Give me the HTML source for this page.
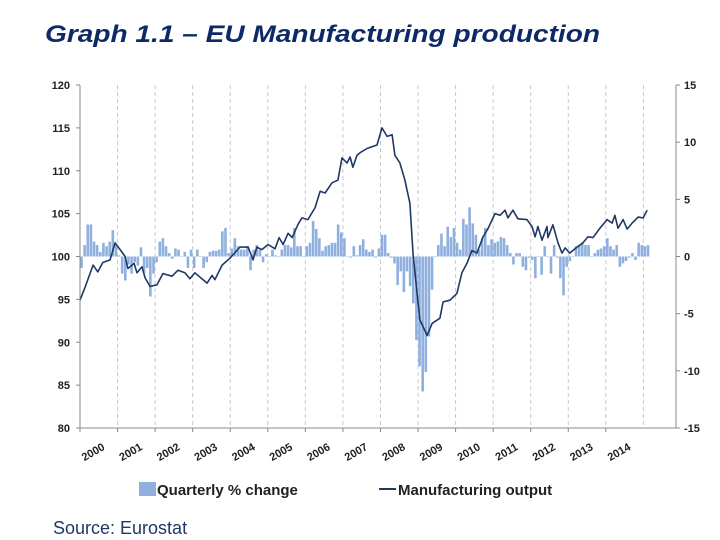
<!DOCTYPE html>
<html><head><meta charset="utf-8"><style>
html,body{margin:0;padding:0;background:#fff;}
svg{display:block;font-family:"Liberation Sans",sans-serif;}
</style></head><body>
<svg id="chart" width="720" height="540" viewBox="0 0 720 540">
<text x="45" y="42" font-size="24" font-weight="bold" font-style="italic" fill="#0e2a66" textLength="555" lengthAdjust="spacingAndGlyphs">Graph 1.1 – EU Manufacturing production</text>
<g id="grid"></g>
<g id="bars"></g>
<path id="line" fill="none" stroke="#1f3864" stroke-width="1.6" stroke-linejoin="round"/>
<g id="axes"></g>
<g>
<rect x="139" y="482" width="17" height="14" fill="#8fb0de"/>
<text x="157" y="495" font-size="15" font-weight="bold" fill="#222">Quarterly % change</text>
<line x1="379" y1="489" x2="396" y2="489" stroke="#1f3864" stroke-width="2"/>
<text x="398" y="495" font-size="15" font-weight="bold" fill="#222">Manufacturing output</text>
</g>
<text x="53" y="534" font-size="18" fill="#1f3864">Source: Eurostat</text>
</svg>
<script>
const years = ["2000","2001","2002","2003","2004","2005","2006","2007","2008","2009","2010","2011","2012","2013","2014"];
const leftTicks = [80,85,90,95,100,105,110,115,120];
const rightTicks = [-15,-10,-5,0,5,10,15];
const barValues = [-1.0,1.0,2.8,2.8,1.3,1.0,0.4,1.2,0.9,1.3,2.3,1.0,0.1,-1.5,-2.1,-0.7,-1.5,-0.5,-0.8,0.8,-1.4,-1.0,-3.5,-1.5,-0.5,1.3,1.6,0.9,0.3,-0.2,0.7,0.6,0,0.4,-1.0,0.6,-1.0,0.6,0,-1.0,-0.5,0.4,0.5,0.5,0.6,2.2,2.5,0.3,0.7,1.6,0.9,0.6,0.6,0.9,-1.2,0.6,1.0,0.6,-0.5,0.2,0,0.6,0.1,0,0.6,1.0,1.0,0.8,2.5,0.9,0.9,0,0.9,1.2,3.1,2.4,1.6,0.5,0.9,1.0,1.2,1.2,2.8,2.1,1.6,0,-0.1,0.9,0.1,1.0,
1.5,0.6,0.4,0.6,-0.1,0.7,1.9,1.9,0.3,-0.1,-0.6,-2.5,-1.3,-3.1,-1.3,-2.6,-4.1,-7.3,-9.6,-11.8,-10.1,-7.0,-2.9,0,1.0,2.0,0.9,2.6,1.7,2.5,1.2,0.6,3.3,2.8,4.3,2.9,1.9,0.6,1.6,2.5,1.0,1.5,1.2,1.3,1.7,1.6,1.0,0.3,-0.7,0.3,0.3,-0.9,-1.2,-0.1,-0.3,-1.9,0,-1.6,0.9,0,-1.5,1.0,-0.1,-1.9,-3.4,-0.9,-0.4,0,0.9,1.0,1.2,1.0,1.0,0,0.3,0.6,0.7,0.9,1.6,0.9,0.6,1.0,-0.9,-0.6,-0.4,-0.1,0.3,-0.3,1.2,1.0,0.9,1.0];
const lineMonths = [0,1.6,4.2,5.7,7.3,9.6,11.2,12.8,14.4,15.3,17.3,18.2,19.8,20.8,22.4,24.6,26.5,29.4,31.3,33.5,35.1,36.7,40.6,42.2,43.1,45.4,47.9,51.1,53.7,55.3,56.5,58.1,60.1,62.3,63.6,64.9,66.5,67.8,69.6,70.9,72.8,75.1,76.7,78.3,80.5,82.4,83.7,85.3,86.3,87.2,88.5,
89.5,91.7,94.9,96.5,98.1,99.7,100.6,102.2,103.8,105.4,106.4,107.7,108.6,110.9,112.5,115,116,118.2,120.4,122,123.6,125.2,126.8,128.8,130.4,132.6,134.2,135.8,136.7,138.3,139.9,142.8,144.4,145.4,146.3,147.6,149.2,149.5,151.1,152.7,154,155,156.5,158.8,160.7,162.3,163.9,166.1,168.4,170,170.9,171.9,173.5,174.8,176.4,178.3,179.9,181.2];
const lineValues = [94.9,96.4,99.0,98.2,99.3,99.6,101.6,100.8,100.0,98.6,99.2,98.1,98.8,97.5,96.5,96.7,98.0,97.7,98.4,98.1,97.4,98.1,96.9,97.8,97.3,99.0,99.8,101.1,101.1,99.6,101.1,100.8,101.4,100.9,102.2,101.4,102.7,102.2,103.7,104.5,104.3,105.7,107.6,107.4,108.6,108.9,111.5,110.9,111.6,110.4,111.8,
112.1,112.6,113.0,115.0,114.0,114.2,111.8,110.9,108.9,106.2,100.4,95.7,92.6,90.8,92.2,92.8,94.7,94.9,95.7,98.1,99.2,100.7,100.4,102.3,103.3,105.0,104.8,105.4,104.5,105.4,104.4,104.3,103.5,102.3,103.5,101.9,103.5,102.2,103.7,101.6,100.4,101.0,100.4,101.1,101.6,102.3,102.2,103.3,104.3,103.9,104.8,103.3,104.3,103.2,103.9,104.6,104.5,105.4];

const X0=80, X1=676, Y0=85, Y1=428, MW=3.13;
const xM = m => X0 + 1.5 + m*MW;
const xL = m => X0 + m*MW;
const yL = v => Y1 - (v-80)/40*(Y1-Y0);
const yR = v => Y1 - (v+15)/30*(Y1-Y0);
const NS="http://www.w3.org/2000/svg";
function mk(tag, attrs, parent){const e=document.createElementNS(NS,tag);for(const k in attrs)e.setAttribute(k,attrs[k]);parent.appendChild(e);return e;}
const grid=document.getElementById('grid'), bars=document.getElementById('bars'), axes=document.getElementById('axes');

years.forEach((y,i)=>{
  const gx = X0 + (i+1)*12*MW;
  if(gx < X1-5){
    const l=mk('line',{x1:gx,y1:Y0,x2:gx,y2:Y1,stroke:'#c8c8c8','stroke-dasharray':'4,3','stroke-width':1},grid);
    
    
  }
  const tk=mk('line',{x1:X0+i*12*MW,y1:Y1,x2:X0+i*12*MW,y2:Y1+4,stroke:'#888'},axes);
  
  
  const tx=X0+(i+1)*12*MW-12, ty=449;
  const t=mk('text',{x:tx,y:ty,'text-anchor':'end','font-size':11,'font-weight':'bold',fill:'#222',transform:`rotate(-30 ${tx} ${ty})`},axes);
  t.textContent=y;
  
  
});

barValues.forEach((v,i)=>{
  const y0=yR(0), y=yR(v);
  const r=mk('rect',{x:xM(i)-1.3,y:Math.min(y0,y),width:2.6,height:Math.max(0.5,Math.abs(y-y0)),fill:'#8fb0de'},bars);
  
  
});

document.getElementById('line').setAttribute('d', lineMonths.map((m,i)=>(i?'L':'M')+xL(m).toFixed(1)+','+yL(lineValues[i]).toFixed(1)).join(' '));

mk('line',{x1:X0,y1:Y0,x2:X0,y2:Y1,stroke:'#888'},axes);
mk('line',{x1:X1,y1:Y0,x2:X1,y2:Y1,stroke:'#888'},axes);
mk('line',{x1:X0,y1:Y1,x2:X1,y2:Y1,stroke:'#888'},axes);
leftTicks.forEach(v=>{
  mk('line',{x1:X0-4,y1:yL(v),x2:X0,y2:yL(v),stroke:'#888'},axes);
  const t=mk('text',{x:X0-10,y:yL(v)+4,'text-anchor':'end','font-size':11,'font-weight':'bold',fill:'#222'},axes);
  t.textContent=v;
  
  
});
rightTicks.forEach(v=>{
  mk('line',{x1:X1,y1:yR(v),x2:X1+4,y2:yR(v),stroke:'#888'},axes);
  const t=mk('text',{x:X1+8,y:yR(v)+4,'font-size':11,'font-weight':'bold',fill:'#222'},axes);
  t.textContent=v;
  
  
});
</script>
</body></html>
